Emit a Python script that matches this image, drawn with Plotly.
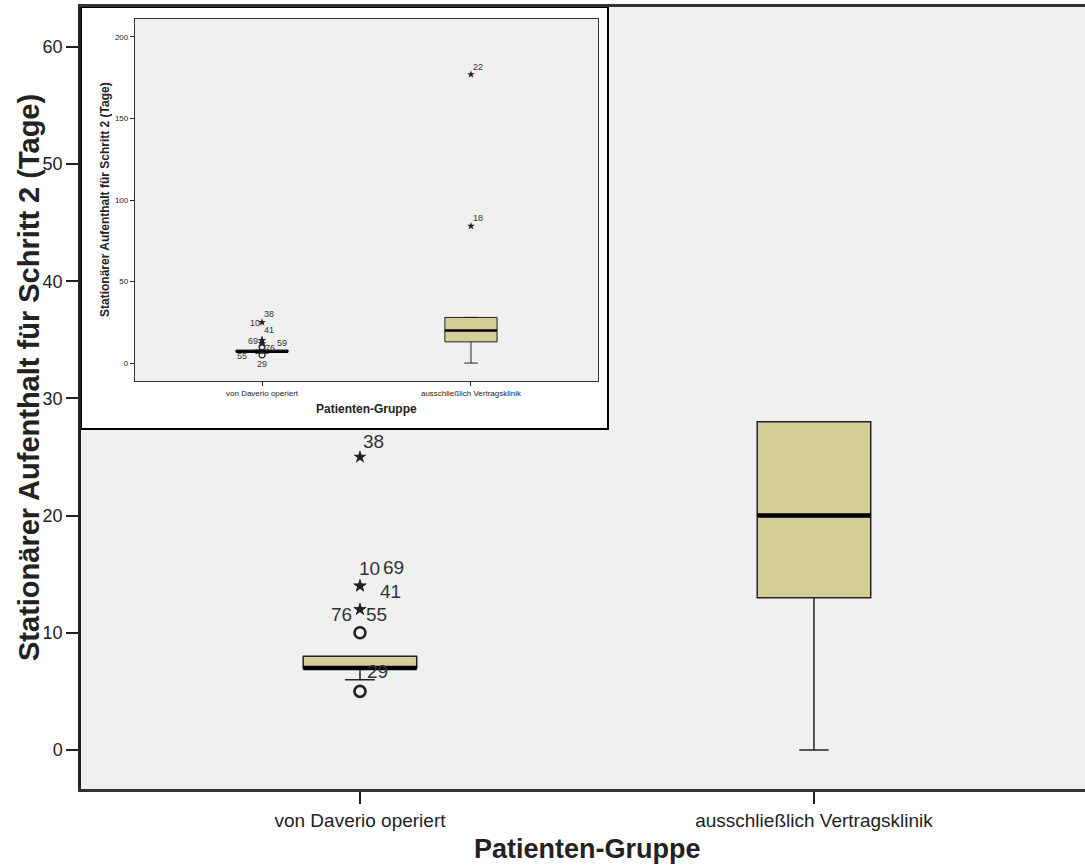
import plotly.graph_objects as go

# ---------------- data ----------------
categories = ["von Daverio operiert", "ausschließlich Vertragsklinik"]
q1 = [7, 13]
median = [7, 20]
q3 = [8, 28]
lower_whisker = [6, 0]
upper_whisker = [8, 28]

# outlier cases (SPSS case ids)
case_ids = ["38", "10", "69", "41", "76", "55", "59", "29", "18", "22"]
case_group = [0, 0, 0, 0, 0, 0, 0, 0, 1, 1]
case_value = [25, 14, 14, 14, 12, 12, 10, 5, 84, 177]
case_kind = ["extreme", "extreme", "extreme", "extreme", "extreme", "extreme",
             "mild", "mild", "extreme", "extreme"]

y_ticks_main = [0, 10, 20, 30, 40, 50, 60]
y_ticks_inset = [0, 50, 100, 150, 200]

# ---------------- style ----------------
W, H = 1085, 865
FONT = "Liberation Sans, Arial, sans-serif"
BOX_FILL = "#D3CE97"
PLOT_BG = "#F0F0F0"
INK = "#222222"
BOX_W = 0.25

def px_x(p):
    return p / W

def px_y(p):
    return (H - p) / H

# label offsets (pixels) for the main and inset views
main_offsets = {"38": (14, 16), "10": (10, 17), "69": (34, 18), "41": (31, -6),
                "76": (-18, -5), "55": (17, -5), "29": (18, 20)}
inset_offsets = {"38": (7, 8), "10": (-7, 17), "41": (7, 10), "69": (-9, -1),
                 "76": (8, -4), "55": (-20, -12), "59": (20, 4), "29": (0, -9),
                 "18": (7, 8), "22": (7, 7)}

fig = go.Figure()

def add_view(xa, ya, line_w, median_w, star_size, circ_size, star_lw, circ_lw):
    fig.add_trace(go.Box(
        x=[0, 1], q1=q1, median=median, q3=q3,
        lowerfence=lower_whisker, upperfence=upper_whisker,
        width=BOX_W, whiskerwidth=0.26, boxpoints=False,
        fillcolor=BOX_FILL, line=dict(color=INK, width=line_w),
        xaxis=xa, yaxis=ya, showlegend=False, hoverinfo="skip"))
    for g, m in enumerate(median):
        fig.add_trace(go.Scatter(
            x=[g - BOX_W / 2, g + BOX_W / 2], y=[m, m], mode="lines",
            line=dict(color="black", width=median_w),
            xaxis=xa, yaxis=ya, showlegend=False, hoverinfo="skip"))
    symbols = ["star" if k == "extreme" else "circle-open" for k in case_kind]
    sizes = [star_size if k == "extreme" else circ_size for k in case_kind]
    lws = [star_lw if k == "extreme" else circ_lw for k in case_kind]
    fig.add_trace(go.Scatter(
        x=case_group, y=case_value, mode="markers",
        marker=dict(symbol=symbols, size=sizes, color=INK, opacity=1,
                    line=dict(color=INK, width=lws)),
        xaxis=xa, yaxis=ya, showlegend=False, hoverinfo="skip"))

add_view("x", "y", 1.5, 4.5, 10, 11, 0, 2.6)
add_view("x2", "y2", 1.0, 2.6, 6, 6, 0, 1.2)

annotations = []
for cid, g, v in zip(case_ids, case_group, case_value):
    if cid in main_offsets:
        dx, dy = main_offsets[cid]
        annotations.append(dict(x=g, y=v, xref="x", yref="y", text=cid,
                                showarrow=False, xshift=dx, yshift=dy,
                                font=dict(family=FONT, size=19, color="#333")))
    if cid in inset_offsets:
        dx, dy = inset_offsets[cid]
        annotations.append(dict(x=g, y=v, xref="x2", yref="y2", text=cid,
                                showarrow=False, xshift=dx, yshift=dy,
                                font=dict(family=FONT, size=9, color="#333")))

# titles
annotations += [
    dict(x=px_x(29), y=px_y(378), xref="paper", yref="paper",
         text="Stationärer Aufenthalt für Schritt 2 (Tage)", textangle=-90,
         showarrow=False, xanchor="center", yanchor="middle",
         font=dict(family=FONT, size=29, color=INK, weight="bold")),
    dict(x=px_x(587), y=px_y(849), xref="paper", yref="paper",
         text="Patienten-Gruppe", showarrow=False,
         xanchor="center", yanchor="middle",
         font=dict(family=FONT, size=27, color=INK, weight="bold")),
    dict(x=px_x(105), y=px_y(200), xref="paper", yref="paper",
         text="Stationärer Aufenthalt für Schritt 2 (Tage)", textangle=-90,
         showarrow=False, xanchor="center", yanchor="middle",
         font=dict(family=FONT, size=12, color=INK, weight="bold")),
    dict(x=px_x(366), y=px_y(409), xref="paper", yref="paper",
         text="Patienten-Gruppe", showarrow=False,
         xanchor="center", yanchor="middle",
         font=dict(family=FONT, size=12, color=INK, weight="bold")),
]

shapes = [
    # main plot background
    dict(type="rect", xref="paper", yref="paper", layer="below",
         x0=px_x(81), x1=1.0, y0=px_y(789), y1=px_y(7),
         fillcolor=PLOT_BG, line=dict(width=0)),
    # inset white panel with frame
    dict(type="rect", xref="paper", yref="paper", layer="below",
         x0=px_x(81), x1=px_x(608), y0=px_y(429), y1=px_y(7),
         fillcolor="white", line=dict(color="black", width=2)),
    # inset plot background
    dict(type="rect", xref="paper", yref="paper", layer="below",
         x0=px_x(135), x1=px_x(598), y0=px_y(381), y1=px_y(19),
         fillcolor=PLOT_BG, line=dict(width=0)),
]

fig.update_layout(
    width=W, height=H, margin=dict(l=0, r=0, t=0, b=0),
    paper_bgcolor="white", plot_bgcolor="rgba(0,0,0,0)",
    font=dict(family=FONT, color=INK),
    showlegend=False, annotations=annotations, shapes=shapes,
    xaxis=dict(domain=[px_x(81), 1.0], range=[-0.6145, 1.597],
               tickvals=[0, 1], ticktext=categories, ticks="outside",
               ticklen=12, tickwidth=1.5, tickcolor=INK,
               tickfont=dict(size=19, color=INK, family=FONT),
               showline=True, linecolor="#333", linewidth=3, mirror=True,
               showgrid=False, zeroline=False, fixedrange=True),
    yaxis=dict(domain=[px_y(789), px_y(7)], range=[-3.33, 63.4],
               tickvals=y_ticks_main, ticks="outside", ticklen=12,
               tickwidth=1.5, tickcolor=INK,
               tickfont=dict(size=18, color=INK, family=FONT),
               showline=True, linecolor="#222", linewidth=2.5,
               showgrid=False, zeroline=False, fixedrange=True),
    xaxis2=dict(domain=[px_x(135), px_x(598)], range=[-0.608, 1.608],
                anchor="y2", tickvals=[0, 1], ticktext=categories,
                ticks="outside", ticklen=4, tickwidth=1, tickcolor=INK,
                tickfont=dict(size=8, color=INK, family=FONT),
                showline=True, linecolor="#333", linewidth=1.3, mirror=True,
                showgrid=False, zeroline=False, fixedrange=True),
    yaxis2=dict(domain=[px_y(381), px_y(19)], range=[-11, 211],
                anchor="x2", tickvals=y_ticks_inset, ticks="outside",
                ticklen=4, tickwidth=1, tickcolor=INK,
                tickfont=dict(size=8, color=INK, family=FONT),
                showline=True, linecolor="#333", linewidth=1.3, mirror=True,
                showgrid=False, zeroline=False, fixedrange=True),
)

fig.write_html("out.html",
               config={"displayModeBar": False},
               post_script="document.body.style.margin='0';"
                           "document.body.style.padding='0';")
